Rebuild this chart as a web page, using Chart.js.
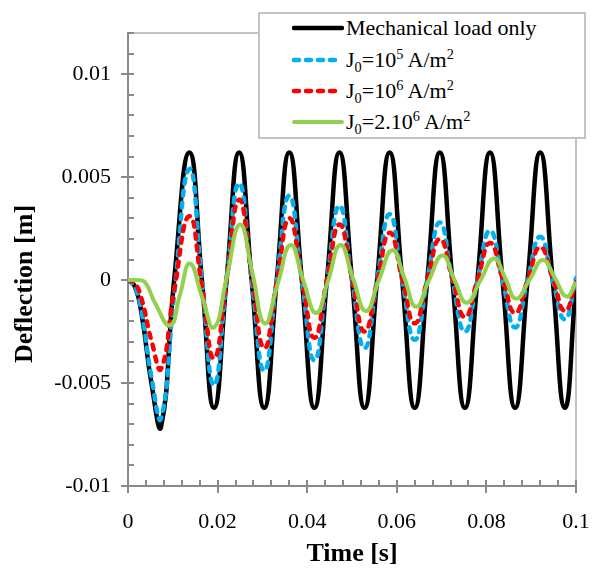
<!DOCTYPE html>
<html>
<head>
<meta charset="utf-8">
<script src="https://cdn.jsdelivr.net/npm/chart.js@4.4.0/dist/chart.umd.min.js"></script>
<style>
  body { margin: 0; background: #fff; }
  #wrap { position: relative; width: 592px; height: 571px; }
  #legend {
    position: absolute; left: 258px; top: 12px; width: 328px; height: 127px;
    box-sizing: border-box; border: 2px solid #c3c3c3; background: #fff;
    font-family: "Liberation Serif", serif; font-size: 22px; color: #000;
  }
  .row { position: absolute; left: 32px; height: 30px; display: flex; align-items: center; white-space: nowrap; }
  .row svg { width: 52px; height: 10px; margin-right: 2px; }
  sub, sup { font-size: 65%; line-height: 0; }
</style>
</head>
<body>
<div id="wrap">
  <canvas id="chart" width="592" height="571"></canvas>
  <div id="legend"></div>
</div>
<script>
// values
const timeMain = [0, 0.0015, 0.003, 0.0053, 0.0074, 0.0103, 0.0137, 0.0165, 0.0192, 0.022, 0.0248, 0.0276, 0.0304, 0.0332, 0.036, 0.0388, 0.0416, 0.0444, 0.0472, 0.05, 0.0528, 0.0556, 0.0584, 0.0612, 0.064, 0.0668, 0.0696, 0.0724, 0.0752, 0.078, 0.0808, 0.0836, 0.0864, 0.0892, 0.092, 0.0948, 0.0975, 0.1];
const mechanicalOnly = [0, -0.0003, -0.0016, -0.0051, -0.0071, 0, 0.0062, 0, -0.0062, 0, 0.0062, 0, -0.0062, 0, 0.0062, 0, -0.0062, 0, 0.0062, 0, -0.0062, 0, 0.0062, 0, -0.0062, 0, 0.0062, 0, -0.0062, 0, 0.0062, 0, -0.0062, 0, 0.0062, 0, -0.0062, -0.0001];
const j0_1e5 = [0, -0.0003, -0.0015, -0.0048, -0.0067, -0.0007, 0.0054, 0, -0.0051, 0, 0.0047, 0, -0.0044, 0, 0.0041, 0, -0.0039, 0, 0.0036, 0, -0.0033, 0, 0.0032, 0, -0.0029, 0, 0.0028, 0, -0.0025, 0, 0.0024, 0, -0.0023, 0, 0.0021, 0, -0.0019, 0.0001];
const j0_1e6 = [0, -0.00015, -0.0009, -0.003, -0.0043, -0.0005, 0.0031, -0.0003, -0.0038, 0, 0.0039, 0.0003, -0.0033, -0.0001, 0.003, 0.0001, -0.0028, 0, 0.0027, 0.0001, -0.0025, -0.0001, 0.0023, 0.0001, -0.0021, 0, 0.002, 0.0001, -0.0018, 0, 0.0018, 0.0001, -0.0016, 0, 0.0016, 0.0001, -0.0015, -0.0001];
const timeGreen = [0, 0.002, 0.0038, 0.006, 0.0094, 0.0116, 0.0138, 0.0165, 0.0192, 0.0221, 0.025, 0.0278, 0.0305, 0.0334, 0.0363, 0.0391, 0.042, 0.0447, 0.0474, 0.0502, 0.0531, 0.056, 0.059, 0.0617, 0.0643, 0.0672, 0.0702, 0.0729, 0.0756, 0.0787, 0.0817, 0.0842, 0.0866, 0.0896, 0.0926, 0.0953, 0.0979, 0.1];
const j0_2e6 = [0, 0, -0.0001, -0.0011, -0.0022, -0.0007, 0.0008, -0.0008, -0.0023, 0.0002, 0.0027, 0.0003, -0.0021, -0.0002, 0.0017, 0, -0.0016, 0, 0.0017, 0.0001, -0.0015, 0, 0.00145, 0.0001, -0.0013, 0, 0.0012, 0, -0.0011, 0, 0.00105, 0.0001, -0.0009, 0, 0.00097, 0.0001, -0.0008, -0.0001];

const xTickValues = [0, 0.02, 0.04, 0.06, 0.08, 0.1];
const yTickValues = [-0.01, -0.005, 0, 0.005, 0.01];
const seriesLabels = [
  "Mechanical load only",
  "J<sub>0</sub>=10<sup>5</sup> A/m<sup>2</sup>",
  "J<sub>0</sub>=10<sup>6</sup> A/m<sup>2</sup>",
  "J<sub>0</sub>=2.10<sup>6</sup> A/m<sup>2</sup>"
];

const serif = "'Liberation Serif', 'Times New Roman', serif";
const axisGray = "#898989";

function pts(xs, ys) {
  return xs.map((x, i) => ({ x: x, y: ys[i] }));
}

const datasets = [
  { label: seriesLabels[0], data: pts(timeMain, mechanicalOnly), borderColor: "#000000", borderWidth: 4.5, order: 4 },
  { label: seriesLabels[1], data: pts(timeMain, j0_1e5), borderColor: "#00b0f0", borderWidth: 4.5, borderDash: [5, 7], borderCapStyle: "round", order: 3 },
  { label: seriesLabels[2], data: pts(timeMain, j0_1e6), borderColor: "#ff0000", borderWidth: 4.5, borderDash: [5, 7], borderCapStyle: "round", order: 2 },
  { label: seriesLabels[3], data: pts(timeGreen, j0_2e6), borderColor: "#92d050", borderWidth: 4, order: 1 }
];

// plot frame + minor/major tick marks
const frameTicks = {
  id: "frameTicks",
  beforeDatasetsDraw(chart) {
    const { ctx, chartArea: a, scales: { x, y } } = chart;
    ctx.save();
    ctx.strokeStyle = "#c3c3c3";
    ctx.lineWidth = 2;
    ctx.beginPath();
    ctx.moveTo(a.left, a.top);
    ctx.lineTo(a.right, a.top);
    ctx.lineTo(a.right, a.bottom);
    ctx.stroke();

    ctx.strokeStyle = axisGray;
    ctx.beginPath();
    for (let i = 0; i <= 25; i++) {
      const px = Math.round(x.getPixelForValue(i * 0.004));
      const major = i % 5 === 0;
      ctx.moveTo(px, a.bottom + (major ? 7 : 0));
      ctx.lineTo(px, a.bottom - 6);
    }
    for (let i = -10; i <= 12; i++) {
      const py = Math.round(y.getPixelForValue(i * 0.001));
      const major = i % 5 === 0;
      ctx.moveTo(a.left - (major ? 7 : 0), py);
      ctx.lineTo(a.left + 6, py);
    }
    ctx.stroke();
    ctx.restore();
  }
};

const yTitle = {
  id: "yTitle",
  afterDraw(chart) {
    const ctx = chart.ctx;
    ctx.save();
    ctx.translate(25, 284);
    ctx.rotate(-Math.PI / 2);
    ctx.font = "bold 26px " + serif;
    ctx.fillStyle = "#000";
    ctx.textAlign = "center";
    ctx.textBaseline = "middle";
    ctx.fillText("Deflection [m]", 0, 0);
    ctx.restore();
  }
};

new Chart(document.getElementById("chart"), {
  type: "line",
  data: { datasets: datasets },
  options: {
    responsive: false,
    animation: false,
    layout: { padding: { top: 33, right: 16, left: 0, bottom: 0 } },
    elements: { point: { radius: 0 }, line: { tension: 0.5 } },
    plugins: { legend: { display: false }, tooltip: { enabled: false } },
    scales: {
      x: {
        type: "linear", min: 0, max: 0.1,
        afterBuildTicks: s => { s.ticks = xTickValues.map(v => ({ value: v })); },
        afterFit: s => { s.height = 85; s.paddingLeft = 0; s.paddingRight = 0; },
        grid: { display: false, drawTicks: false },
        border: { display: true, color: axisGray, width: 2 },
        ticks: { font: { family: serif, size: 22 }, color: "#000", padding: 23, maxRotation: 0, autoSkip: false, callback: v => String(v) },
        title: { display: true, text: "Time [s]", font: { family: serif, size: 26, weight: "bold" }, color: "#000", padding: { top: 0, bottom: 1 } }
      },
      y: {
        type: "linear", min: -0.01, max: 0.012,
        afterBuildTicks: s => { s.ticks = yTickValues.map(v => ({ value: v })); },
        afterFit: s => { s.width = 128; s.paddingTop = 0; s.paddingBottom = 0; },
        grid: { display: false, drawTicks: false },
        border: { display: true, color: axisGray, width: 2 },
        ticks: { font: { family: serif, size: 22 }, color: "#000", padding: 17, autoSkip: false, callback: v => String(v) }
      }
    }
  },
  plugins: [frameTicks, yTitle]
});

// html legend (needs sub/superscripts)
const legend = document.getElementById("legend");
const rowTops = [-1, 31, 62, 93];
datasets.forEach((ds, i) => {
  const row = document.createElement("div");
  row.className = "row";
  row.style.top = rowTops[i] + "px";
  const dash = ds.borderDash ? 'stroke-dasharray="5 7" stroke-linecap="round"' : 'stroke-linecap="round"';
  row.innerHTML =
    '<svg viewBox="0 0 52 10"><line x1="2" y1="5" x2="50" y2="5" stroke="' + ds.borderColor +
    '" stroke-width="' + ds.borderWidth + '" ' + dash + '/></svg><span>' + ds.label + '</span>';
  legend.appendChild(row);
});
</script>
</body>
</html>
